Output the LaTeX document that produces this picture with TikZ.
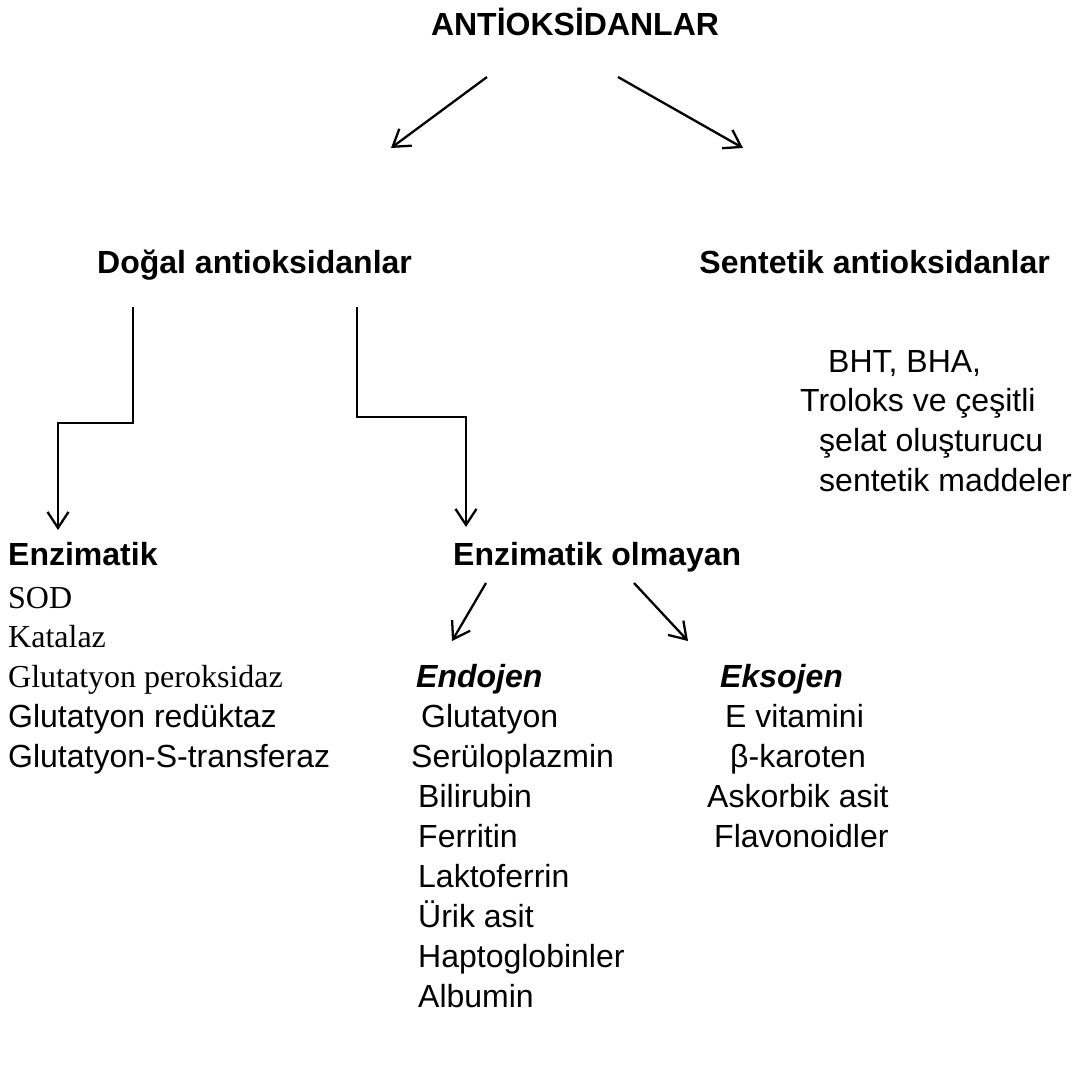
\documentclass[tikz,border=0pt]{standalone}
\usepackage{fontspec}
\setmainfont{Liberation Sans}
\newfontfamily\timesfont{Liberation Serif}
\usetikzlibrary{arrows.meta}
\tikzset{
  lbl/.style={anchor=base west, inner sep=0pt, font=\fontsize{32}{40}\selectfont},
  hdr/.style={lbl, font=\fontsize{32}{40}\selectfont\bfseries},
  hdrit/.style={lbl, font=\fontsize{32}{40}\selectfont\bfseries\itshape},
  tms/.style={lbl, font=\fontsize{32}{40}\selectfont\timesfont},
  conn/.style={line width=2.3pt, -{Straight Barb[length=16pt,width=21pt,line width=2.3pt]}},
  elbow/.style={line width=2.3pt, -{Straight Barb[length=16pt,width=21pt,line width=2.3pt]}}
}
\begin{document}
\begin{tikzpicture}[x=1pt,y=-1pt]
\useasboundingbox[fill=white] (0,0) rectangle (1078,1077);
% headings
\node[hdr, anchor=base] (root) at (575,35) {ANTİOKSİDANLAR};
\node[hdr] (dogal) at (97,273) {Doğal antioksidanlar};
\node[hdr, anchor=base east] (sent) at (1050,273) {Sentetik antioksidanlar};
% synthetic list
\node[lbl] (bht) at (828,372) {BHT, BHA,};
\node[lbl] (trol) at (800,411) {Troloks ve çeşitli};
\node[lbl] (selat) at (819,451) {şelat oluşturucu};
\node[lbl] (madd) at (819,491) {sentetik maddeler};
% enzymatic
\node[hdr] (enz) at (8,565) {Enzimatik};
\node[hdr] (nenz) at (453,565) {Enzimatik olmayan};
\node[tms] (sod) at (8,608) {SOD};
\node[tms] (kat) at (8,647) {Katalaz};
\node[tms] (gpx) at (8,687) {Glutatyon peroksidaz};
\node[lbl] (gred) at (8,727) {Glutatyon redüktaz};
\node[lbl] (gst) at (8,767) {Glutatyon-S-transferaz};
% endogen / exogen
\node[hdrit] (endo) at (416,687) {Endojen};
\node[hdrit] (ekso) at (720,687) {Eksojen};
\node[lbl] (glu) at (421,727) {Glutatyon};
\node[lbl] (ser) at (411,767) {Serüloplazmin};
\node[lbl] (bil) at (418,807) {Bilirubin};
\node[lbl] (fer) at (418,847) {Ferritin};
\node[lbl] (lak) at (418,887) {Laktoferrin};
\node[lbl] (uri) at (418,927) {Ürik asit};
\node[lbl] (hap) at (418,967) {Haptoglobinler};
\node[lbl] (alb) at (418,1007) {Albumin};
\node[lbl] (evit) at (725,727) {E vitamini};
\node[lbl] (bkar) at (730,767) {β-karoten};
\node[lbl] (ask) at (707,807) {Askorbik asit};
\node[lbl] (fla) at (714,847) {Flavonoidler};
% connector end points
\coordinate (r1s) at (487,77);  \coordinate (r1e) at (391,148);
\coordinate (r2s) at (618,77);  \coordinate (r2e) at (743,148);
\coordinate (d1s) at (133,307); \coordinate (d1e) at (58,530);
\coordinate (d2s) at (357,307); \coordinate (d2e) at (466,527);
\coordinate (n1s) at (486,583); \coordinate (n1e) at (452,641);
\coordinate (n2s) at (634,583); \coordinate (n2e) at (688,641);
% connectors
\draw[conn] (r1s) -- (r1e);
\draw[conn] (r2s) -- (r2e);
\draw[elbow] (d1s) -- (133,423) -- (58,423) -- (d1e);
\draw[elbow] (d2s) -- (357,417) -- (466,417) -- (d2e);
\draw[conn] (n1s) -- (n1e);
\draw[conn] (n2s) -- (n2e);
\end{tikzpicture}
\end{document}
